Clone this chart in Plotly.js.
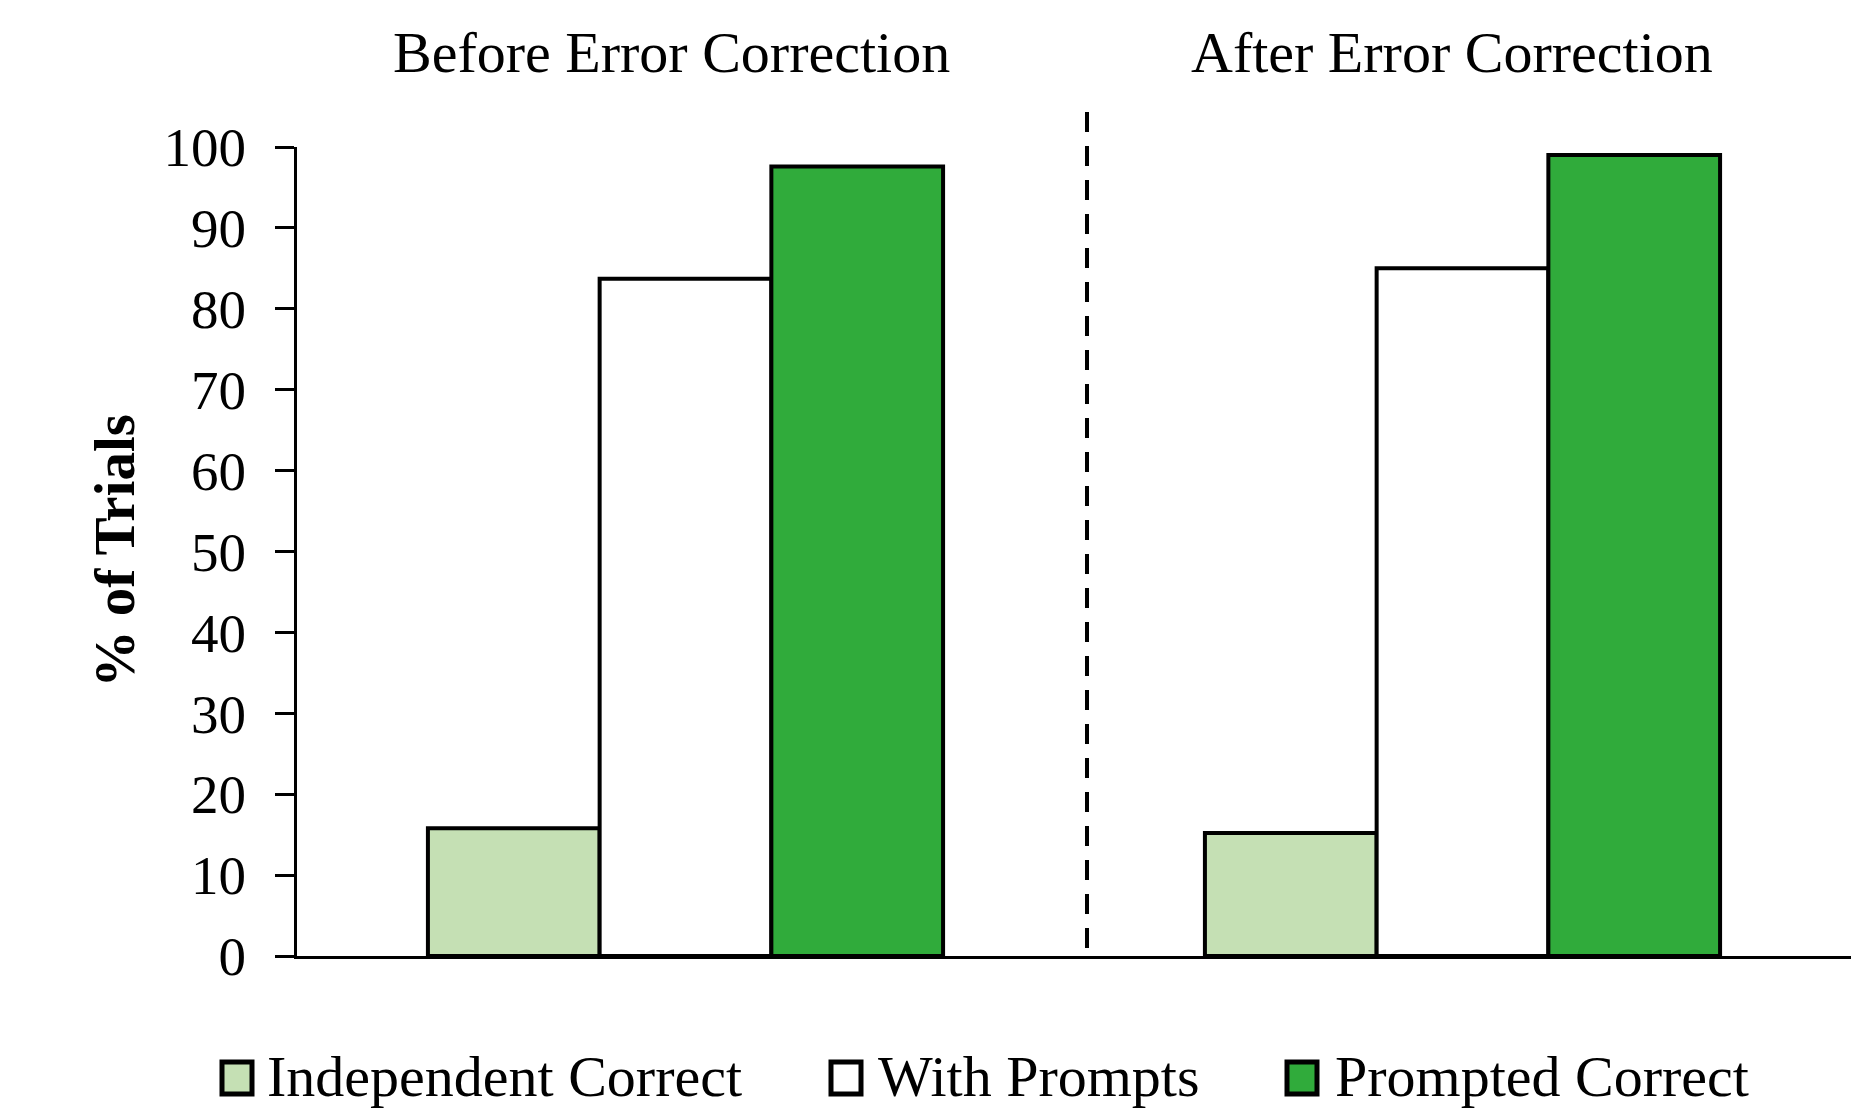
<!DOCTYPE html>
<html>
<head>
<meta charset="utf-8">
<script src="https://cdn.plot.ly/plotly-3.0.1.min.js"></script>
<style>
  html, body { margin: 0; padding: 0; background: #ffffff; }
  #chart { width: 1875px; height: 1119px; }
</style>
</head>
<body>
<div id="chart"></div>
<script>
// ---- data ----
const categories = ["Before Error Correction", "After Error Correction"];
const seriesNames = ["Independent Correct", "With Prompts", "Prompted Correct"];
const independentCorrect = [15.8, 15.2];
const withPrompts = [83.7, 85.0];
const promptedCorrect = [97.6, 99.0];
const seriesColors = ["#C5E0B4", "#FFFFFF", "#30AB3B"];
const yTickVals = [0, 10, 20, 30, 40, 50, 60, 70, 80, 90, 100];

const seriesValues = [independentCorrect, withPrompts, promptedCorrect];
const FONT = "Liberation Serif, Times New Roman, serif";

const traces = seriesValues.map((vals, i) => ({
  type: "bar",
  name: seriesNames[i],
  x: categories,
  y: vals,
  marker: { color: seriesColors[i], line: { color: "#000000", width: 4 } },
  showlegend: false,
  hoverinfo: "x+y+name"
}));

// plot area geometry in pixels (for paper-coordinate conversion of decorations)
const W = 1875, H = 1119;
const mL = 297, mR = 24, mT = 147, mB = 163;
const pw = W - mL - mR, ph = H - mT - mB;
const px = x => (x - mL) / pw;
const py = y => (H - mB - y) / ph;

const annotations = [];
const shapes = [];

// group titles
const titleX = [671, 1452];
categories.forEach((c, i) => {
  annotations.push({
    text: c, xref: "paper", yref: "paper", x: px(titleX[i]), y: py(52),
    xanchor: "center", yanchor: "middle", showarrow: false,
    font: { family: FONT, size: 58, color: "#000" }
  });
});

// y axis title
annotations.push({
  text: "<b>% of Trials</b>", xref: "paper", yref: "paper", x: px(114), y: 0.5,
  xanchor: "center", yanchor: "middle", showarrow: false, textangle: -90,
  font: { family: FONT, size: 57, color: "#000" }
});

// dashed divider (drawn from the top down)
shapes.push({
  type: "line", xref: "paper", yref: "paper",
  x0: px(1087), x1: px(1087), y0: py(112), y1: 0,
  line: { color: "#000", width: 4, dash: "20px,14px" }
});

// custom legend
const legBoxCx = [237, 846, 1302];
const legTextX = [265, 876, 1333];
const legCy = 1078, bw = 30, bh = 32;
seriesNames.forEach((n, i) => {
  shapes.push({
    type: "rect", xref: "paper", yref: "paper",
    x0: px(legBoxCx[i] - bw / 2), x1: px(legBoxCx[i] + bw / 2),
    y0: py(legCy + bh / 2), y1: py(legCy - bh / 2),
    fillcolor: seriesColors[i], line: { color: "#000", width: 5 }
  });
  annotations.push({
    text: n, xref: "paper", yref: "paper", x: px(legTextX[i]), y: py(1076),
    xanchor: "left", yanchor: "middle", showarrow: false,
    font: { family: FONT, size: 58, color: "#000" }
  });
});

const layout = {
  width: W, height: H,
  margin: { l: mL, r: mR, t: mT, b: mB, pad: 0 },
  paper_bgcolor: "#ffffff", plot_bgcolor: "#ffffff",
  barmode: "group", bargap: 0.337, bargroupgap: 0,
  showlegend: false,
  font: { family: FONT, color: "#000" },
  xaxis: {
    type: "category", range: [-0.5, 1.5],
    showticklabels: false, ticks: "", showgrid: false, zeroline: false,
    showline: true, linecolor: "#000", linewidth: 3, fixedrange: true
  },
  yaxis: {
    range: [0, 100], tickvals: yTickVals, ticktext: yTickVals.map(String),
    ticks: "outside", ticklen: 19, tickwidth: 3, tickcolor: "#000",
    ticklabelstandoff: 18,
    showline: true, linecolor: "#000", linewidth: 3,
    showgrid: false, zeroline: false,
    tickfont: { family: FONT, size: 55, color: "#000" }, fixedrange: true
  },
  annotations: annotations,
  shapes: shapes
};

Plotly.newPlot("chart", traces, layout, { displayModeBar: false, staticPlot: true });
</script>
</body>
</html>
